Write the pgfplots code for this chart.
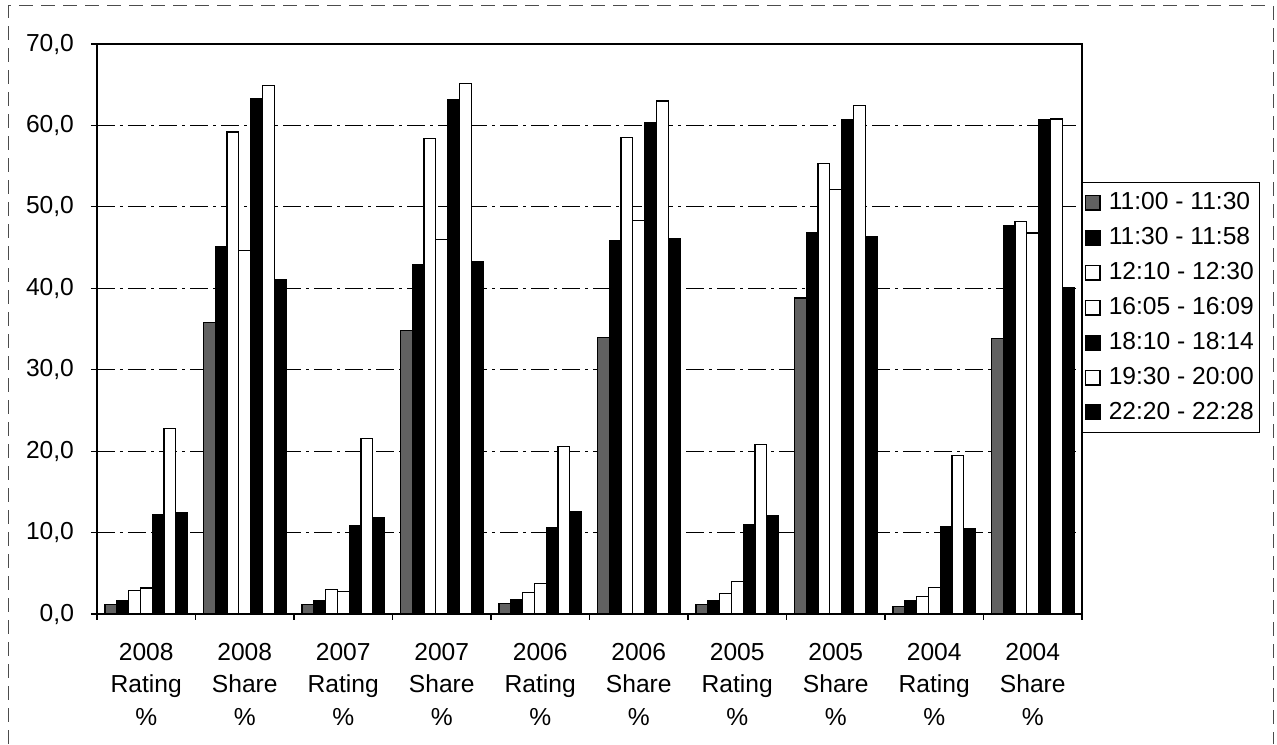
\documentclass[border=0pt]{standalone}
\usepackage{fontspec}
\setmainfont{Liberation Sans}
\usepackage{pgfplots}
\usepackage{pgfplotstable}
\pgfplotsset{compat=1.18}
\usetikzlibrary{calc}

% columns: one per time slot, rows: Rating/Share per year
\pgfplotstableread{
x  a    b    c    d    e    f    g
0  1.2  1.7  2.9  3.2  12.2 22.8 12.5
1  35.8 45.1 59.2 44.6 63.3 64.9 41.1
2  1.2  1.7  3.0  2.8  10.8 21.6 11.8
3  34.8 42.9 58.4 46.0 63.2 65.1 43.3
4  1.3  1.8  2.6  3.7  10.6 20.6 12.6
5  34.0 45.9 58.5 48.3 60.3 63.0 46.1
6  1.2  1.6  2.5  4.0  11.0 20.8 12.1
7  38.8 46.8 55.3 52.1 60.7 62.4 46.3
8  0.9  1.7  2.1  3.3  10.7 19.5 10.5
9  33.8 47.7 48.2 46.8 60.7 60.8 40.1
}\slots

\newcommand\chartfont{\fontsize{12.3}{16.25}\selectfont}

\begin{document}
\begin{tikzpicture}[font=\chartfont]
  \begin{axis}[
      name=ax,
      scale only axis,
      width=492.5pt, height=285pt,
      xmin=-0.5, xmax=9.5,
      ymin=0, ymax=70,
      ybar=0pt, bar width=5.9pt,
      axis line style={black, line width=0.8pt},
      xtick pos=bottom, ytick pos=left,
      xtick={0,...,9},
      xticklabels={{2008\\Rating\\\%},{2008\\Share\\\%},{2007\\Rating\\\%},{2007\\Share\\\%},
        {2006\\Rating\\\%},{2006\\Share\\\%},{2005\\Rating\\\%},{2005\\Share\\\%},
        {2004\\Rating\\\%},{2004\\Share\\\%}},
      xticklabel style={align=center, font=\chartfont, yshift=-8pt},
      x tick style={draw=none},
      extra x ticks={-0.5,0.5,...,9.5},
      extra x tick labels={},
      extra x tick style={x tick style={draw=black, line width=0.6pt}, tick align=outside, major tick length=3pt},
      ytick={0,10,...,70},
      yticklabel style={font=\chartfont, xshift=-5pt,
        /pgf/number format/.cd, fixed, fixed zerofill, precision=1, use comma, assume math mode=true},
      y tick style={black, line width=0.6pt},
      tick align=outside, major tick length=3pt,
      ymajorgrids,
      grid style={black, line width=0.5pt, dash pattern=on 9pt off 2.5pt on 1.5pt off 2.5pt},
      legend style={at={(1,0.758)}, anchor=north west, draw=black, line width=0.6pt,
        font=\chartfont, row sep=3.4pt, inner xsep=1pt, inner ysep=3pt},
      legend cell align=left,
      legend image code/.code={%
        \draw[#1, line width=0.6pt] (4pt,-3.7pt) rectangle (11.4pt,3.7pt);
        \path (13.5pt,0pt);},
      every axis plot/.append style={draw=black, line width=0.6pt},
    ]
    \addplot[fill=black!62] table[x=x, y=a] {\slots};
    \addplot[fill=black] table[x=x, y=b] {\slots};
    \addplot[fill=white] table[x=x, y=c] {\slots};
    \addplot[fill=white] table[x=x, y=d] {\slots};
    \addplot[fill=black] table[x=x, y=e] {\slots};
    \addplot[fill=white] table[x=x, y=f] {\slots};
    \addplot[fill=black] table[x=x, y=g] {\slots};
    \legend{11:00 - 11:30, 11:30 - 11:58, 12:10 - 12:30, 16:05 - 16:09,
      18:10 - 18:14, 19:30 - 20:00, 22:20 - 22:28}
  \end{axis}
  % picture extent and the outer chart frame
  \path ($(ax.south west)+(-48.5pt,-65pt)$) rectangle ($(ax.north east)+(97.5pt,22pt)$);
  \draw[black!70, line width=0.5pt, dash pattern=on 7pt off 4pt]
    ($(ax.south west)+(-44pt,-65pt)$) -- ($(ax.north west)+(-44pt,19pt)$)
    -- ($(ax.north east)+(95.5pt,19pt)$) -- ($(ax.south east)+(95.5pt,-65pt)$);
\end{tikzpicture}
\end{document}
